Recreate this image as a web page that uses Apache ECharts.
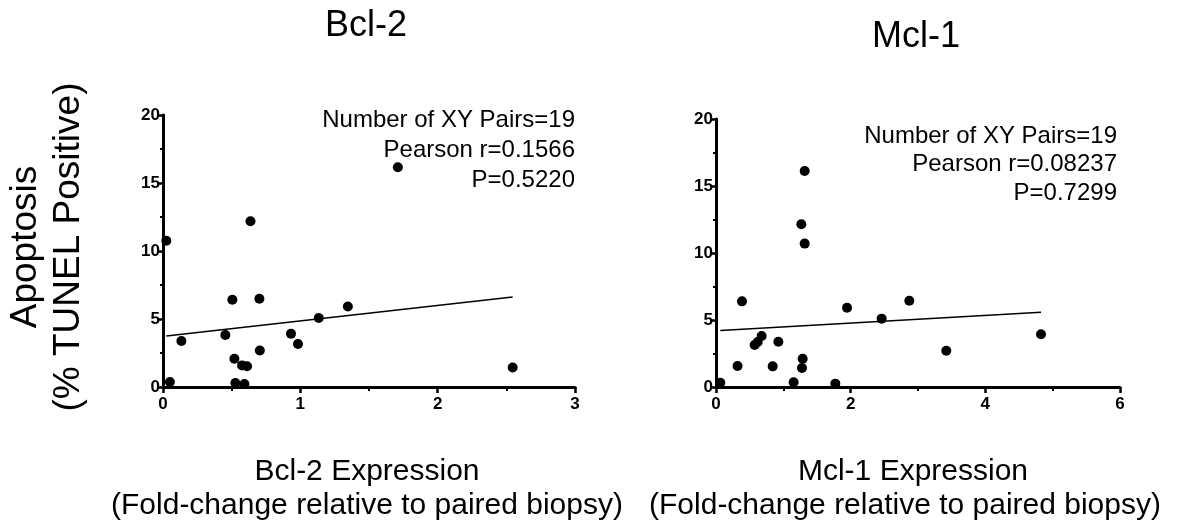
<!DOCTYPE html>
<html>
<head>
<meta charset="utf-8">
<script src="https://cdn.jsdelivr.net/npm/echarts@6/dist/echarts.min.js"></script>
<style>
html,body{margin:0;padding:0;background:#fff;}
#chart{width:1179px;height:525px;}
</style>
</head>
<body>
<div id="chart"></div>
<script>
// ---- data ----
const bclX = [0.024,0.05,0.134,0.454,0.505,0.52,0.527,0.576,0.612,0.593,0.637,0.702,0.705,0.932,0.983,1.134,1.346,1.71,2.546];
const bclY = [10.75,0.37,3.38,3.82,6.41,2.08,0.29,1.59,1.52,0.22,12.19,6.49,2.69,3.92,3.16,5.07,5.92,16.16,1.44];
const mclX = [0.064,0.32,0.386,0.574,0.619,0.678,0.842,0.926,1.153,1.267,1.317,1.317,1.287,1.277,1.772,1.946,2.46,2.871,3.42,4.827];
const mclY = [0.32,1.57,6.39,3.13,3.36,3.81,1.54,3.38,0.35,12.14,16.12,10.70,2.11,1.42,0.25,5.92,5.10,6.44,2.71,3.93];
// fitted line (intercept, slope)
const bclFit = [3.72, 1.135];
const mclFit = [4.19, 0.289];
const titles = ['Bcl-2', 'Mcl-1'];
const xTitles = [['Bcl-2 Expression', '(Fold-change relative to paired biopsy)'],
                 ['Mcl-1 Expression', '(Fold-change relative to paired biopsy)']];
const yTitle = ['Apoptosis', '(% TUNEL Positive)'];
const bclStats = ['Number of XY Pairs=19', 'Pearson r=0.1566', 'P=0.5220'];
const mclStats = ['Number of XY Pairs=19', 'Pearson r=0.08237', 'P=0.7299'];

const FONT = "'Liberation Sans', Arial, sans-serif";
function pts(xs, ys){ return xs.map((x,i)=>[x, ys[i]]); }
function fitLine(xs, fit){
  const a = Math.min(...xs), b = Math.max(...xs);
  return [[a, fit[0] + fit[1]*a], [b, fit[0] + fit[1]*b]];
}
function xAxisCfg(grid, max, interval){
  return {
    type:'value', gridIndex:grid, min:0, max:max, interval:interval,
    axisLine:{show:true, onZero:false, lineStyle:{color:'#000', width:3}},
    axisTick:{show:true, length:6, lineStyle:{color:'#000', width:2.5}},
    minorTick:{show:true, splitNumber:2, length:4, lineStyle:{color:'#000', width:2}},
    axisLabel:{color:'#000', fontFamily:FONT, fontWeight:'bold', fontSize:17, margin:9},
    splitLine:{show:false}
  };
}
function yAxisCfg(grid){
  return {
    type:'value', gridIndex:grid, min:0, max:20, interval:5,
    axisLine:{show:true, onZero:false, lineStyle:{color:'#000', width:3}},
    axisTick:{show:true, length:5, lineStyle:{color:'#000', width:2.5}},
    minorTick:{show:true, splitNumber:2, length:3, lineStyle:{color:'#000', width:2}},
    axisLabel:{color:'#000', fontFamily:FONT, fontWeight:'bold', fontSize:17, margin:3},
    splitLine:{show:false}
  };
}
function txt(x, y, s, size, align, rot){
  return {type:'text', x:x, y:y, rotation:rot||0,
    style:{text:s, fill:'#000', font:size+'px '+FONT, textAlign:align||'center', textVerticalAlign:'middle'}};
}
const graphics = [
  txt(366, 26, titles[0], 36),
  txt(916, 37, titles[1], 36),
  txt(367, 472, xTitles[0][0], 30),
  txt(367, 506, xTitles[0][1], 30),
  txt(913, 472, xTitles[1][0], 30),
  txt(905, 506, xTitles[1][1], 30),
  txt(26, 247, yTitle[0], 37, 'center', Math.PI/2),
  txt(69, 247, yTitle[1], 37, 'center', Math.PI/2)
];
bclStats.forEach((s,i)=>graphics.push(txt(575, 120 + i*30, s, 24, 'right')));
mclStats.forEach((s,i)=>graphics.push(txt(1117, 136 + i*28.5, s, 24, 'right')));

const chart = echarts.init(document.getElementById('chart'), null, {renderer:'canvas'});
chart.setOption({
  animation:false,
  backgroundColor:'#fff',
  grid:[
    {left:163, top:115, width:412, height:272},
    {left:716, top:119, width:404, height:268}
  ],
  xAxis:[xAxisCfg(0, 3, 1), xAxisCfg(1, 6, 2)],
  yAxis:[yAxisCfg(0), yAxisCfg(1)],
  graphic:graphics,
  series:[
    {type:'line', xAxisIndex:0, yAxisIndex:0, data:fitLine(bclX, bclFit), symbol:'none',
     lineStyle:{color:'#000', width:1.5}, z:2},
    {type:'scatter', xAxisIndex:0, yAxisIndex:0, data:pts(bclX, bclY), symbol:'circle', symbolSize:10,
     itemStyle:{color:'#000', opacity:1}, clip:false, z:3},
    {type:'line', xAxisIndex:1, yAxisIndex:1, data:fitLine(mclX, mclFit), symbol:'none',
     lineStyle:{color:'#000', width:1.5}, z:2},
    {type:'scatter', xAxisIndex:1, yAxisIndex:1, data:pts(mclX, mclY), symbol:'circle', symbolSize:10,
     itemStyle:{color:'#000', opacity:1}, clip:false, z:3}
  ]
});
</script>
</body>
</html>
